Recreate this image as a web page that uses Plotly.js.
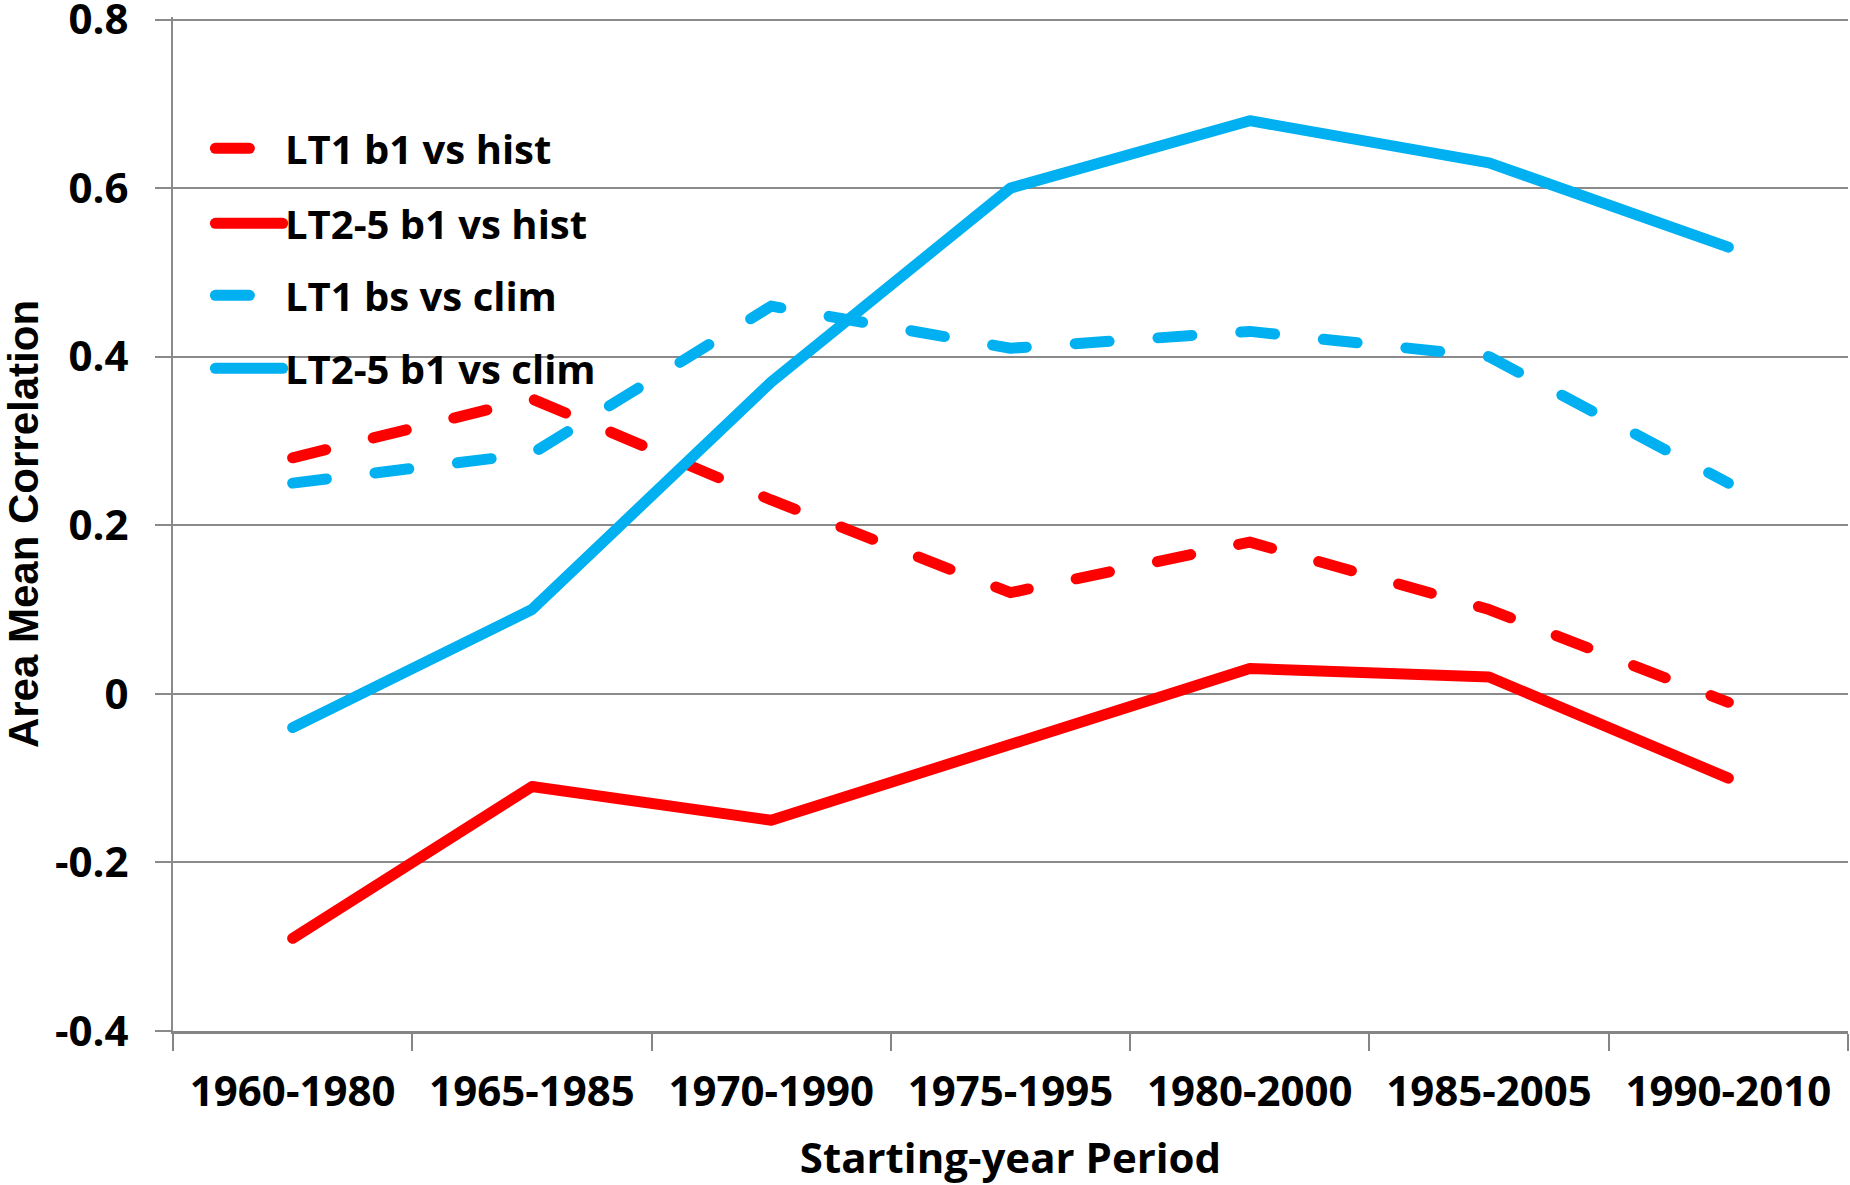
<!DOCTYPE html>
<html>
<head>
<meta charset="utf-8">
<script src="https://cdn.plot.ly/plotly-3.0.1.min.js"></script>
<style>
  html, body { margin: 0; padding: 0; background: #fff; }
  #chart { width: 1850px; height: 1185px; }
  /* Excel style round ends on the series lines and legend keys */
  .js-line, .shapelayer path { stroke-linecap: round; stroke-linejoin: round; }
</style>
</head>
<body>
<div id="chart"></div>
<script>
// starting-year periods (x categories)
var periods = ['1960-1980', '1965-1985', '1970-1990', '1975-1995', '1980-2000', '1985-2005', '1990-2010'];

// area mean correlation
var lt1HistVals  = [0.28, 0.35, 0.23, 0.12, 0.18, 0.10, -0.01];
var lt25HistVals = [-0.29, -0.11, -0.15, -0.06, 0.03, 0.02, -0.10];
var lt1ClimVals  = [0.25, 0.285, 0.46, 0.41, 0.43, 0.40, 0.25];
var lt25ClimVals = [-0.04, 0.10, 0.37, 0.60, 0.68, 0.63, 0.53];

var seriesNames = ['LT1 b1 vs hist', 'LT2-5 b1 vs hist', 'LT1 bs vs clim', 'LT2-5 b1 vs clim'];

// y ticks (hyphen minus as in the original)
var yTickVals = [-0.4, -0.2, 0, 0.2, 0.4, 0.6, 0.8];
var yTickText = ['-0.4', '-0.2', '0', '0.2', '0.4', '0.6', '0.8'];

var RED = '#ff0000';
var BLUE = '#00b0f0';
var DASH = '34px,49px';
var LW = 11;
var FONT = 'Open Sans, Liberation Sans, sans-serif';

var series = [
  { y: lt1HistVals,  color: RED,  dash: DASH },
  { y: lt25HistVals, color: RED,  dash: 'solid' },
  { y: lt1ClimVals,  color: BLUE, dash: DASH },
  { y: lt25ClimVals, color: BLUE, dash: 'solid' }
];

var data = series.map(function (s, i) {
  return {
    x: periods,
    y: s.y,
    name: seriesNames[i],
    type: 'scatter',
    mode: 'lines',
    line: { color: s.color, width: LW, dash: s.dash },
    hoverinfo: 'x+y+name'
  };
});

// hand-made legend in the upper left of the plot
var legendY = [0.8705, 0.7965, 0.7255, 0.6535];
var shapes = [];
var annotations = [];
series.forEach(function (s, i) {
  shapes.push({
    type: 'line', xref: 'paper', yref: 'paper',
    x0: 0.0253, x1: 0.0655, y0: legendY[i], y1: legendY[i],
    line: { color: s.color, width: LW, dash: s.dash }
  });
  annotations.push({
    xref: 'paper', yref: 'paper',
    x: 0.0655, y: legendY[i], xanchor: 'left', yanchor: 'middle',
    text: seriesNames[i], showarrow: false,
    font: { family: FONT, size: 40, color: '#000', weight: 'bold' }
  });
});

var layout = {
  width: 1850,
  height: 1185,
  margin: { l: 173, r: 2, t: 17, b: 154 },
  paper_bgcolor: '#fff',
  plot_bgcolor: '#fff',
  showlegend: false,
  xaxis: {
    type: 'category',
    range: [-0.5, 6.5],
    showgrid: false,
    showline: true,
    linecolor: '#858585',
    linewidth: 3,
    ticks: 'outside',
    tickson: 'boundaries',
    ticklen: 17,
    tickwidth: 2,
    tickcolor: '#858585',
    ticklabelstandoff: 22,
    tickfont: { family: FONT, size: 42, color: '#000', weight: 'bold' },
    title: {
      text: 'Starting-year Period',
      standoff: 29,
      font: { family: FONT, size: 42, color: '#000', weight: 'bold' }
    },
    fixedrange: true
  },
  yaxis: {
    range: [-0.4, 0.803],
    tickvals: yTickVals,
    ticktext: yTickText,
    ticklabeloverflow: 'allow',
    showgrid: true,
    gridcolor: '#8a8a8a',
    gridwidth: 2,
    zeroline: false,
    showline: true,
    linecolor: '#8a8a8a',
    linewidth: 2,
    ticks: 'outside',
    ticklen: 16,
    tickwidth: 2,
    tickcolor: '#8a8a8a',
    ticklabelstandoff: 18,
    tickfont: { family: FONT, size: 42, color: '#000', weight: 'bold' },
    title: {
      text: 'Area Mean Correlation',
      standoff: 12,
      font: { family: 'Liberation Sans, Arial, sans-serif', size: 42, color: '#000', weight: 'bold' }
    },
    fixedrange: true
  },
  shapes: shapes,
  annotations: annotations
};

Plotly.newPlot('chart', data, layout, { displayModeBar: false, staticPlot: true });
</script>
</body>
</html>
